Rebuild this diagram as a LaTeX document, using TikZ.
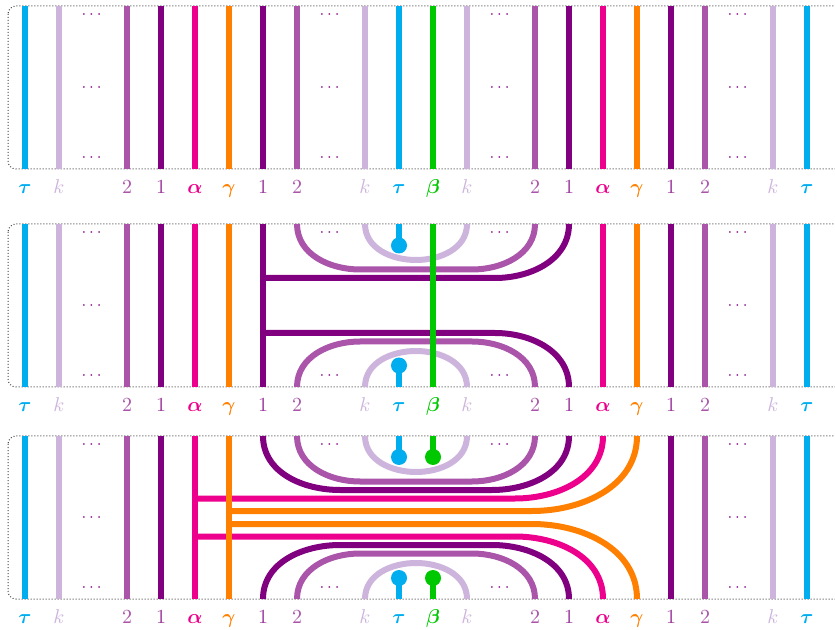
\documentclass[tikz,border=0pt]{standalone}
\usepackage{amsmath}
\usepackage{bm}
\definecolor{ctau}{RGB}{0,174,239}
\definecolor{ck}{RGB}{205,180,220}
\definecolor{ctwo}{RGB}{170,85,170}
\definecolor{cone}{RGB}{128,0,128}
\definecolor{conelab}{RGB}{155,55,155}
\definecolor{calpha}{RGB}{236,0,140}
\definecolor{cgamma}{RGB}{255,128,0}
\definecolor{cbeta}{RGB}{0,200,0}
\definecolor{cdots}{RGB}{135,10,135}
\definecolor{cframe}{RGB}{70,70,70}
\begin{document}
\begin{tikzpicture}[x=0.5pt,y=-0.5pt,
  strand/.style={line width=3pt},
  pframe/.style={draw=cframe, line width=0.5pt, dash pattern=on 0.5pt off 1pt, rounded corners=4pt},
  lab/.style={anchor=base, inner sep=0pt},
  dotsnode/.style={text=cdots, inner sep=0pt, font=\footnotesize},
  bead/.style={line width=0pt}]
\useasboundingbox (0,0) rectangle (835,630);

% frames, labels, side dots
\foreach \p/\T/\B in {1/6/169, 2/224/387, 3/436/599} {
  \pgfmathsetmacro{\M}{(\T+\B)/2}
  \draw[pframe] (8,\T) rectangle (870,\B);
  \foreach \x/\t/\c in {25/{\bm{\tau}}/ctau, 59/k/ck, 127/2/ctwo, 161/1/conelab,
      195/{\bm{\alpha}}/calpha, 229/{\bm{\gamma}}/cgamma, 263/1/conelab, 297/2/ctwo,
      365/k/ck, 399/{\bm{\tau}}/ctau, 433/{\bm{\beta}}/cbeta, 467/k/ck,
      535/2/ctwo, 569/1/conelab, 603/{\bm{\alpha}}/calpha, 637/{\bm{\gamma}}/cgamma,
      671/1/conelab, 705/2/ctwo, 773/k/ck, 807/{\bm{\tau}}/ctau} {
    \node[lab, text=\c] (lab\p-\x) at (\x,{\B+24.5}) {$\t$};
  }
  \foreach \x in {93,739} {
    \node[dotsnode] (dt\p-\x) at (\x,{\T+9}) {$\cdots$};
    \node[dotsnode] (dm\p-\x) at (\x,\M) {$\cdots$};
    \node[dotsnode] (db\p-\x) at (\x,{\B-11}) {$\cdots$};
  }
  \foreach \x in {331,501} {
    \node[dotsnode] (dt\p-\x) at (\x,{\T+9}) {$\cdots$};
    \node[dotsnode] (db\p-\x) at (\x,{\B-11}) {$\cdots$};
  }
}
\node[dotsnode] (dm1-331) at (331,87.5) {$\cdots$};
\node[dotsnode] (dm1-501) at (501,87.5) {$\cdots$};

% ---------- panel 1 ----------
\foreach \x/\c in {25/ctau, 59/ck, 127/ctwo, 161/cone, 195/calpha, 229/cgamma,
    263/cone, 297/ctwo, 365/ck, 399/ctau, 433/cbeta, 467/ck, 535/ctwo, 569/cone,
    603/calpha, 637/cgamma, 671/cone, 705/ctwo, 773/ck, 807/ctau}
  \draw[strand, \c] (\x,6) -- (\x,169);

% ---------- panel 2 ----------
\foreach \x/\c in {25/ctau, 59/ck, 127/ctwo, 161/cone, 195/calpha, 229/cgamma,
    263/cone, 603/calpha, 637/cgamma, 671/cone, 705/ctwo, 773/ck, 807/ctau}
  \draw[strand, \c] (\x,224) -- (\x,387);
% strand 1 branches
\draw[strand, cone] (263,278) -- (495,278) to[out=0,in=-90] (569,224);
\draw[strand, cone] (263,333) -- (495,333) to[out=0,in=90] (569,387);
% strand 2 cups
\draw[strand, ctwo] (297,224) to[out=-90,in=180] (360,269.5) -- (472,269.5) to[out=0,in=-90] (535,224);
\draw[strand, ctwo] (297,387) to[out=90,in=180] (360,341.5) -- (472,341.5) to[out=0,in=90] (535,387);
% k cups
\draw[strand, ck] (365,224) to[out=-90,in=180] (416,260) to[out=0,in=-90] (467,224);
\draw[strand, ck] (365,387) to[out=90,in=180] (416,351) to[out=0,in=90] (467,387);
% tau beads
\draw[strand, ctau] (399,224) -- (399,245.5);
\fill[ctau] (399,245.5) circle (4pt);
\draw[strand, ctau] (399,387) -- (399,365.5);
\fill[ctau] (399,365.5) circle (4pt);
% beta on top
\draw[strand, cbeta] (433,224) -- (433,387);

% ---------- panel 3 ----------
\foreach \x/\c in {25/ctau, 59/ck, 127/ctwo, 161/cone,
    671/cone, 705/ctwo, 773/ck, 807/ctau}
  \draw[strand, \c] (\x,436) -- (\x,599);
% alpha
\draw[strand, calpha] (195,436) -- (195,599);
\draw[strand, calpha] (195,498.5) -- (515,498.5) to[out=0,in=-90] (603,436);
\draw[strand, calpha] (195,536.5) -- (515,536.5) to[out=0,in=90] (603,599);
% gamma
\draw[strand, cgamma] (229,436) -- (229,599);
\draw[strand, cgamma] (229,511) -- (532,511) to[out=0,in=-90] (637,436);
\draw[strand, cgamma] (229,524) -- (532,524) to[out=0,in=90] (637,599);
% strand 1
\draw[strand, cone] (263,436) to[out=-90,in=180] (340,490) -- (492,490) to[out=0,in=-90] (569,436);
\draw[strand, cone] (263,599) to[out=90,in=180] (340,545) -- (492,545) to[out=0,in=90] (569,599);
% strand 2
\draw[strand, ctwo] (297,436) to[out=-90,in=180] (360,481.5) -- (472,481.5) to[out=0,in=-90] (535,436);
\draw[strand, ctwo] (297,599) to[out=90,in=180] (360,553.5) -- (472,553.5) to[out=0,in=90] (535,599);
% k
\draw[strand, ck] (365,436) to[out=-90,in=180] (416,472) to[out=0,in=-90] (467,436);
\draw[strand, ck] (365,599) to[out=90,in=180] (416,563) to[out=0,in=90] (467,599);
% beads
\draw[strand, ctau] (399,436) -- (399,457);
\fill[ctau] (399,457) circle (4pt);
\draw[strand, ctau] (399,599) -- (399,578);
\fill[ctau] (399,578) circle (4pt);
\draw[strand, cbeta] (433,436) -- (433,457);
\fill[cbeta] (433,457) circle (4pt);
\draw[strand, cbeta] (433,599) -- (433,578);
\fill[cbeta] (433,578) circle (4pt);
\end{tikzpicture}
\end{document}
